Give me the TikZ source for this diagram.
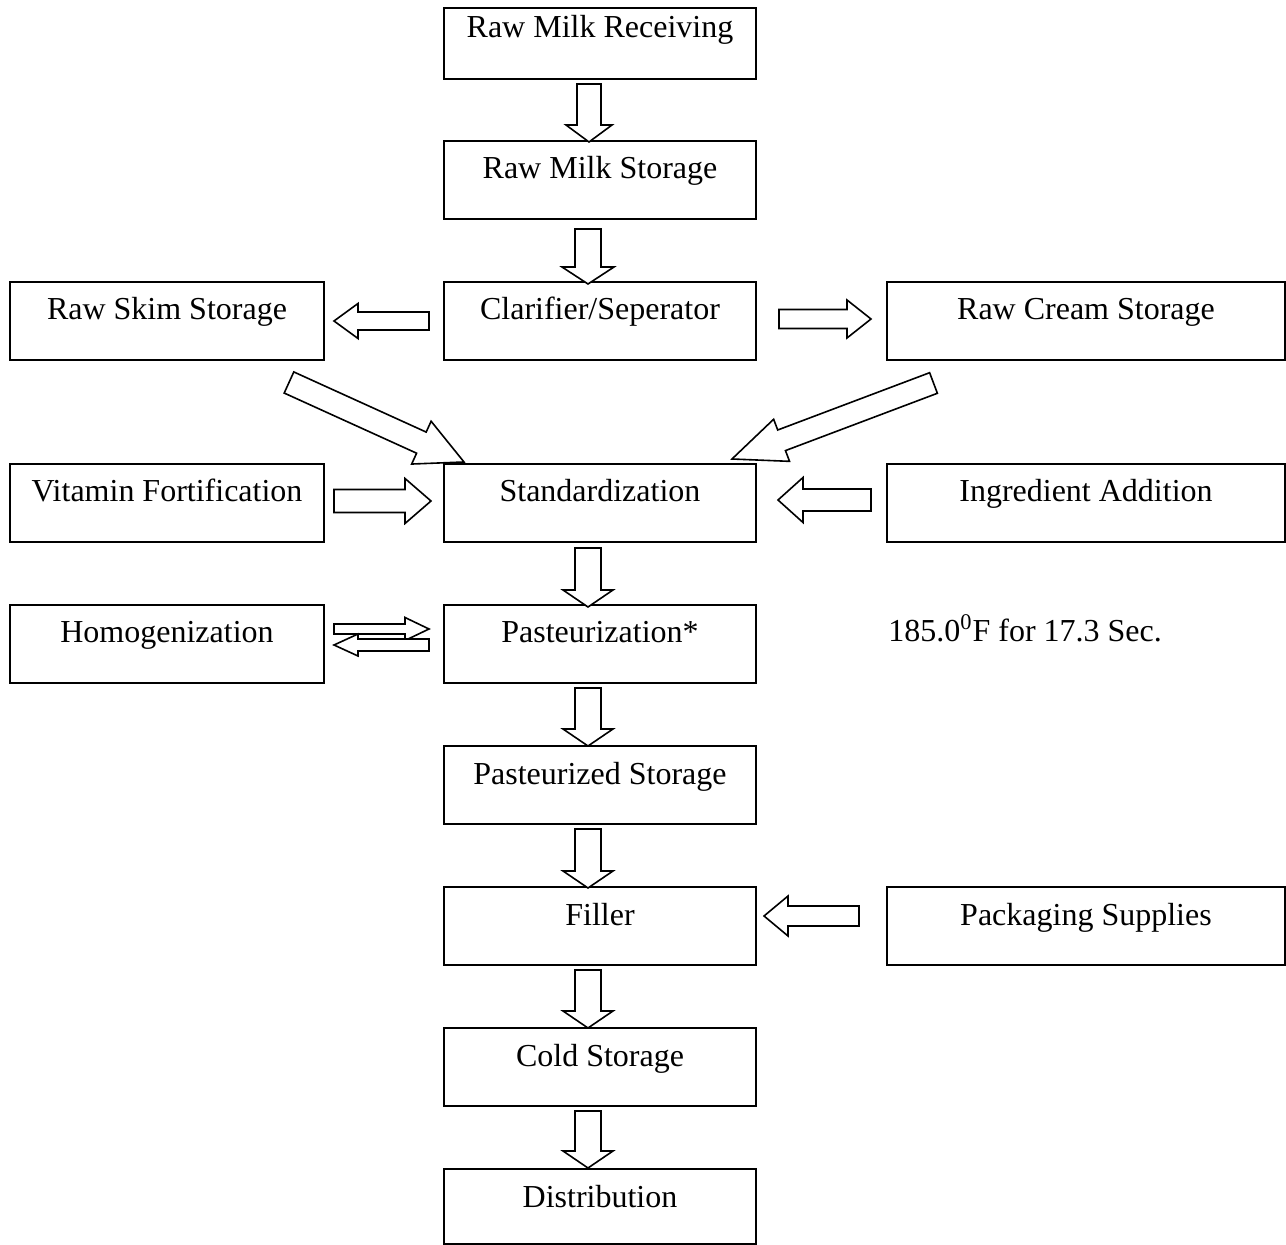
\documentclass[tikz,border=0pt]{standalone}
\usepackage{fontspec}
\setmainfont{Liberation Serif}
\usetikzlibrary{calc}

% Outlined block arrow: tail, tip, shaft half width, head half width, head length
\newcommand{\blockarrow}[5]{%
  \draw[barrow]
    ($(#1)!#3!90:(#2)$) --
    ($(#2)!#5!(#1)!#3!-90:(#1)$) --
    ($(#2)!#5!(#1)!#4!-90:(#1)$) --
    (#2) --
    ($(#2)!#5!(#1)!#4!90:(#1)$) --
    ($(#2)!#5!(#1)!#3!90:(#1)$) --
    ($(#1)!#3!-90:(#2)$) -- cycle;
}

\begin{document}
\begin{tikzpicture}[x=0.5pt,y=-0.5pt,
  font=\fontsize{16pt}{19pt}\selectfont,
  box/.style={draw, line width=1pt, inner sep=0pt, anchor=north,
    text height=19pt, text depth=20pt, align=center},
  midbox/.style={box, minimum width=156pt},
  leftbox/.style={box, minimum width=157pt},
  rightbox/.style={box, minimum width=199pt},
  barrow/.style={draw, line width=0.8pt, fill=white, line join=miter}]
\useasboundingbox (0,0) rectangle (1286,1245);

% process steps, centre column
\node[midbox, text height=15pt, text depth=20.5pt] (recv) at (600,7) {Raw Milk Receiving};
\node[midbox] (rstore) at (600,140) {Raw Milk Storage};
\node[midbox] (clar) at (600,281) {Clarifier/Seperator};
\node[midbox] (std) at (600,463) {Standardization};
\node[midbox] (past) at (600,604) {Pasteurization*};
\node[midbox] (pstore) at (600,745) {Pasteurized Storage};
\node[midbox] (fill) at (600,886) {Filler};
\node[midbox] (cold) at (600,1027) {Cold Storage};
\node[midbox, text depth=18.5pt] (dist) at (600,1168) {Distribution};

% side steps
\node[leftbox] (skim) at (167,281) {Raw Skim Storage};
\node[rightbox] (cream) at (1086,281) {Raw Cream Storage};
\node[leftbox] (vit) at (167,463) {Vitamin Fortification};
\node[rightbox] (ingr) at (1086,463) {Ingredient Addition};
\node[leftbox] (homo) at (167,604) {Homogenization};
\node[rightbox] (pack) at (1086,886) {Packaging Supplies};

% pasteurization condition
\node[anchor=base west, inner sep=0pt] (temp) at (888,642) {185.0\textsuperscript{0}F for 17.3 Sec.};

% arrow end points
\coordinate (d1t) at ([shift={(-11,4)}]recv.south);
\coordinate (d1h) at ([shift={(-11,2)}]rstore.north);
\coordinate (d2t) at ([shift={(-12,9)}]rstore.south);
\coordinate (d2h) at ([shift={(-12,3)}]clar.north);
\coordinate (d3t) at ([shift={(-12,5)}]std.south);
\coordinate (d3h) at ([shift={(-12,3)}]past.north);
\coordinate (d4t) at ([shift={(-12,4)}]past.south);
\coordinate (d4h) at ([shift={(-12,1)}]pstore.north);
\coordinate (d5t) at ([shift={(-12,4)}]pstore.south);
\coordinate (d5h) at ([shift={(-12,2)}]fill.north);
\coordinate (d6t) at ([shift={(-12,4)}]fill.south);
\coordinate (d6h) at ([shift={(-12,1)}]cold.north);
\coordinate (d7t) at ([shift={(-12,4)}]cold.south);
\coordinate (d7h) at ([shift={(-12,0)}]dist.north);

\coordinate (skt) at ([shift={(-14,0)}]clar.west);
\coordinate (skh) at ([shift={(9,0)}]skim.east);
\coordinate (crt) at ([shift={(22,-2)}]clar.east);
\coordinate (crh) at ([shift={(-15,-2)}]cream.west);
\coordinate (vtt) at ([shift={(9,-2)}]vit.east);
\coordinate (vth) at ([shift={(-12,-2)}]std.west);
\coordinate (int) at ([shift={(-15,-3)}]ingr.west);
\coordinate (inh) at ([shift={(21,-3)}]std.east);
\coordinate (pkt) at ([shift={(-27,-10)}]pack.west);
\coordinate (pkh) at ([shift={(7,-10)}]fill.east);
\coordinate (hot) at ([shift={(9,-15)}]homo.east);
\coordinate (hoh) at ([shift={(-14,-15)}]past.west);
\coordinate (hbt) at ([shift={(-14,1)}]past.west);
\coordinate (hbh) at ([shift={(9,1)}]homo.east);
\coordinate (dlt) at ([shift={(122,21.5)}]skim.south);
\coordinate (dlh) at ([shift={(-136,-1)}]std.north);
\coordinate (drt) at ([shift={(-152.5,22)}]cream.south);
\coordinate (drh) at ([shift={(132,-4)}]std.north);

% main line
\blockarrow{d1t}{d1h}{6pt}{11.5pt}{8.5pt}
\blockarrow{d2t}{d2h}{6.5pt}{13pt}{8.5pt}
\blockarrow{d3t}{d3h}{6.5pt}{12.5pt}{8.5pt}
\blockarrow{d4t}{d4h}{6.5pt}{12.5pt}{8.5pt}
\blockarrow{d5t}{d5h}{6.5pt}{12.5pt}{8.5pt}
\blockarrow{d6t}{d6h}{6.5pt}{12.5pt}{8.5pt}
\blockarrow{d7t}{d7h}{6.5pt}{12.5pt}{8.5pt}

% separator outputs
\blockarrow{skt}{skh}{4.5pt}{8.75pt}{12pt}
\blockarrow{crt}{crh}{4.75pt}{9.5pt}{12pt}

% back to standardization
\blockarrow{dlt}{dlh}{5.8pt}{11.75pt}{23.4pt}
\blockarrow{drt}{drh}{5.5pt}{11.25pt}{26.5pt}
\blockarrow{vtt}{vth}{5.75pt}{11.25pt}{13pt}
\blockarrow{int}{inh}{5.5pt}{11.25pt}{12.5pt}

% homogenizer loop
\blockarrow{hot}{hoh}{2.5pt}{5.75pt}{12pt}
\blockarrow{hbt}{hbh}{3pt}{5.5pt}{12pt}

% packaging
\blockarrow{pkt}{pkh}{5pt}{10pt}{12pt}
\end{tikzpicture}
\end{document}
